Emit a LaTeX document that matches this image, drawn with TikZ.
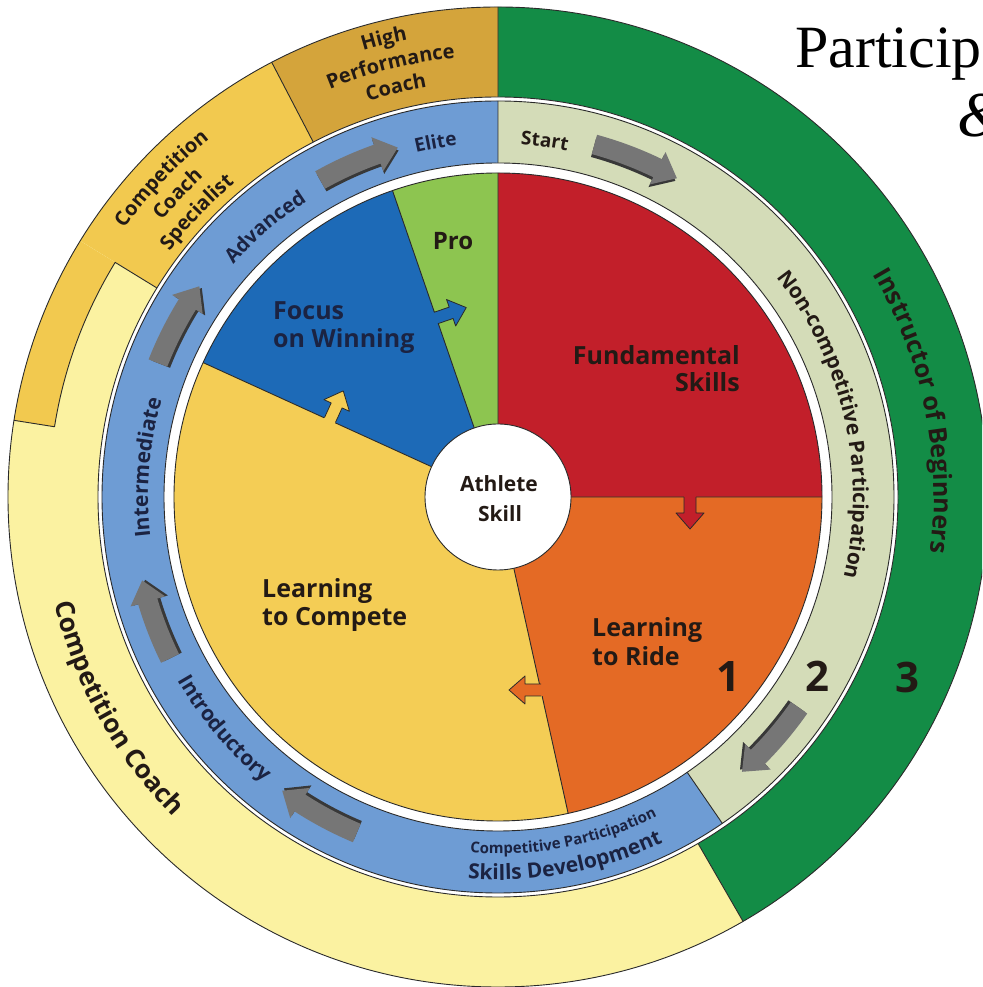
\documentclass[tikz,border=0pt]{standalone}
\usepackage{fontspec}
\setmainfont{Open Sans}
\newfontfamily\ttlfont{Liberation Serif}
\usetikzlibrary{decorations.text}
\definecolor{hpcgold}{HTML}{D4A43B}
\definecolor{ccsgold}{HTML}{F2C94F}
\definecolor{paleyel}{HTML}{FBF2A1}
\definecolor{outgreen}{HTML}{138C46}
\definecolor{beige}{HTML}{D4DCB8}
\definecolor{ringblue}{HTML}{6E9CD4}
\definecolor{redsec}{HTML}{C21F2A}
\definecolor{orangesec}{HTML}{E46A25}
\definecolor{yelsec}{HTML}{F4CD55}
\definecolor{bluesec}{HTML}{1D6AB7}
\definecolor{prosec}{HTML}{8DC550}
\definecolor{arrgray}{HTML}{767676}
\definecolor{arrdark}{HTML}{383838}
\definecolor{navytxt}{HTML}{1B2342}
\definecolor{darktxt}{HTML}{231A15}
\definecolor{edgecol}{HTML}{2A2A2A}
\newcommand\fs[1]{\fontsize{#1}{#1}\selectfont}
\tikzset{
  edgeline/.style={draw=edgecol, line width=0.9pt},
  pielabel/.style={font=\fs{25}\bfseries, text=darktxt, inner sep=0pt},
  numlabel/.style={font=\fs{42}\bfseries, text=darktxt, inner sep=0pt},
}
% text on an arc: radius, start angle, end angle, size, colour, text
\newcommand\arctext[6]{%
  \path[decorate, decoration={text along path, text align=center,
     text={|\fs{#4}\bfseries\color{#5}|#6}}]
     (#2:#1) arc[start angle=#2, end angle=#3, radius=#1];}
% curved block arrow: colour, tail angle, tip angle, radius
\newcommand\arrshape[4]{%
  \pgfmathsetmacro\hbase{#3+3.4}%
  \pgfmathsetmacro\rmid{#4}%
  \pgfmathsetmacro\rin{#4-10}%
  \pgfmathsetmacro\rout{#4+10}%
  \pgfmathsetmacro\hin{#4-18}%
  \pgfmathsetmacro\hout{#4+18}%
  \fill[#1] (#2:\rin) arc[start angle=#2, end angle=\hbase, radius=\rin]
    -- (\hbase:\hin) -- (#3:\rmid) -- (\hbase:\hout) -- (\hbase:\rout)
    arc[start angle=\hbase, end angle=#2, radius=\rout] -- cycle;}
\newcommand\ringarrow[3]{\arrshape{arrdark}{#1}{#2}{#3-2.5}\arrshape{arrgray}{#1}{#2}{#3+0.5}}
% small block arrow: x, y, direction, fill colour
\newcommand\smallarrow[4]{%
  \begin{scope}[shift={(#1,#2)}, rotate=#3]
    \fill[#4] (-4,-6) -- (16,-6) -- (16,-14) -- (32,0) -- (16,14) -- (16,6) -- (-4,6) -- cycle;
    \draw[edgeline, line width=0.8pt] (0,-6) -- (16,-6) -- (16,-14) -- (32,0) -- (16,14) -- (16,6) -- (0,6);
  \end{scope}}
\begin{document}
\begin{tikzpicture}[x=1pt, y=1pt, line join=round]
\useasboundingbox (0,0) rectangle (982,987);
\clip (0,0) rectangle (982,987);
\begin{scope}[shift={(498,490)}]
  % ---------- outer band ----------
  \fill[outgreen] (0,0) -- (-60:490) arc[start angle=-60, end angle=90, radius=490] -- cycle;
  \fill[hpcgold] (0,0) -- (90:490) arc[start angle=90, end angle=117.5, radius=490] -- cycle;
  \fill[ccsgold] (0,0) -- (117.5:490) arc[start angle=117.5, end angle=148.5, radius=490] -- cycle;
  \fill[paleyel] (0,0) -- (148.5:490) arc[start angle=148.5, end angle=300, radius=490] -- cycle;
  \fill[ccsgold] (148.5:449) -- (148.5:490) arc[start angle=148.5, end angle=171, radius=490]
      -- (171:449) arc[start angle=171, end angle=148.5, radius=449] -- cycle;
  \draw[edgeline] (90:400) -- (90:490) (117.5:400) -- (117.5:490)
      (148.5:400) -- (148.5:449) arc[start angle=148.5, end angle=171, radius=449] -- (171:490)
      (-60:400) -- (-60:490);
  \draw[edgeline] (0,0) circle[radius=490];
  % white gap
  \fill[white] (0,0) circle[radius=400];
  \draw[edgeline] (0,0) circle[radius=400];
  % ---------- skills ring ----------
  \fill[ringblue] (0,0) -- (90:396) arc[start angle=90, end angle=304.5, radius=396] -- cycle;
  \fill[beige] (0,0) -- (-55.5:396) arc[start angle=-55.5, end angle=90, radius=396] -- cycle;
  \draw[edgeline] (0,0) circle[radius=396];
  \draw[edgeline] (90:334) -- (90:396) (-55.5:334) -- (-55.5:396);
  \fill[white] (0,0) circle[radius=334];
  \draw[edgeline] (0,0) circle[radius=334];
  % ---------- pie ----------
  \fill[redsec] (0,0) -- (0:324) arc[start angle=0, end angle=90, radius=324] -- cycle;
  \fill[prosec] (0,0) -- (90:324) arc[start angle=90, end angle=109, radius=324] -- cycle;
  \fill[bluesec] (0,0) -- (109:324) arc[start angle=109, end angle=155.5, radius=324] -- cycle;
  \fill[yelsec] (0,0) -- (155.5:324) arc[start angle=155.5, end angle=282.5, radius=324] -- cycle;
  \fill[orangesec] (0,0) -- (-77.5:324) arc[start angle=-77.5, end angle=0, radius=324] -- cycle;
  \draw[edgeline] (0:73) -- (0:324) (90:73) -- (90:324) (109:73) -- (109:324)
      (155.5:73) -- (155.5:324) (-77.5:73) -- (-77.5:324);
  \draw[edgeline] (0,0) circle[radius=324];
  \fill[white] (0,0) circle[radius=73];
  \draw[edgeline] (0,0) circle[radius=73];
  % ---------- grey ring arrows ----------
  \ringarrow{74.7}{60.7}{365}
  \ringarrow{-35}{-48.4}{367}
  \ringarrow{-112.8}{-126.3}{364}
  \ringarrow{206.2}{193.2}{365}
  \ringarrow{158.5}{144.8}{365}
  \ringarrow{119.3}{106}{363}
  % ---------- curved labels ----------
  \arctext{353}{95}{70}{19}{darktxt}{Start}
  \arctext{354}{112}{88}{19}{navytxt}{Elite}
  \arctext{352}{150}{111.6}{20}{navytxt}{Advanced}
  \arctext{350}{200}{150.4}{21}{navytxt}{Intermediate}
  \arctext{369}{195}{245.4}{21}{navytxt}{Introductory}
  \arctext{357}{-110}{-48}{15}{navytxt}{Competitive Participation}
  \arctext{383}{-110}{-49}{21}{navytxt}{Skills Development}
  \arctext{355}{50}{-24.8}{21}{darktxt}{Non-competitive Participation}
  \arctext{436}{45}{-21.6}{25}{darktxt}{Instructor of Beginners}
  \arctext{456}{180}{238}{26}{darktxt}{Competition Coach}
  \arctext{460}{160}{113.2}{20}{darktxt}{Competition}
  \arctext{435}{160}{113.2}{20}{darktxt}{Coach}
  \arctext{410}{160}{113.2}{20}{darktxt}{Specialist}
  \arctext{466}{125}{83}{20}{darktxt}{High}
  \arctext{441}{125}{83}{20}{darktxt}{Performance}
  \arctext{416}{125}{83}{20}{darktxt}{Coach}
\end{scope}
% ---------- small sector arrows ----------
\smallarrow{690}{490}{-90}{redsec}
\smallarrow{541}{297}{180}{orangesec}
\smallarrow{330}{567}{65.5}{yelsec}
\smallarrow{436}{669}{19}{bluesec}
% ---------- sector labels ----------
\node[pielabel, anchor=base east] (fund1) at (740,622) {Fundamental};
\node[pielabel, anchor=base east] (fund2) at (740,595) {Skills};
\node[pielabel, anchor=base west] (ride1) at (592,350) {Learning};
\node[pielabel, anchor=base west] (ride2) at (592,321) {to Ride};
\node[pielabel, anchor=base west] (comp1) at (262,389) {Learning};
\node[pielabel, anchor=base west] (comp2) at (262,361) {to Compete};
\node[pielabel, anchor=base west, text=navytxt] (win1) at (273,667) {Focus};
\node[pielabel, anchor=base west, text=navytxt] (win2) at (273,639) {on Winning};
\node[pielabel, anchor=base, font=\fs{24}\bfseries] (pro) at (453,737) {Pro};
\node[pielabel, anchor=base, font=\fs{21}\bfseries] (ath1) at (499,495) {Athlete};
\node[pielabel, anchor=base, font=\fs{21}\bfseries] (ath2) at (500,465) {Skill};
\node[numlabel, anchor=base] (n1) at (728,295) {1};
\node[numlabel, anchor=base] (n2) at (817,295) {2};
\node[numlabel, anchor=base] (n3) at (907,294) {3};
% ---------- title ----------
\node[anchor=base west, inner sep=0pt, font=\ttlfont\fs{60}] (ttl1) at (795,919) {Particip};
\node[anchor=base west, inner sep=0pt, font=\ttlfont\itshape\fs{64}] (ttl2) at (957,850) {\&};
\end{tikzpicture}
\end{document}
